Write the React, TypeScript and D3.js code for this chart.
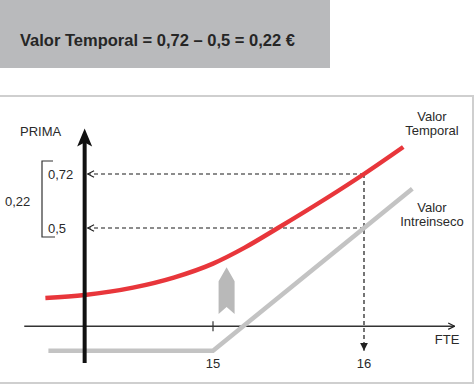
import React, { useEffect, useRef } from 'react';
import * as d3 from 'd3';

// red curve: option premium (valor temporal + intrinseco)
const precioPrima = [13.89, 14.15, 14.47, 14.74, 15.0, 15.21, 15.43, 16.0, 16.26];
const valorPrima = [0.215, 0.227, 0.257, 0.298, 0.355, 0.42, 0.5, 0.72, 0.83];

// gray line: valor intrinseco
const precioIntrinseco = [13.91, 15, 16.32];
const valorIntrinseco = [0, 0, 0.66];

const strike = 15;
const spot = 16;
const primaSpot = 0.72;
const intrinsecoSpot = 0.5;
const xTicks = ['15', '16'];

const titulo = 'Valor Temporal = 0,72 \u2013 0,5 = 0,22 \u20ac';

const W = 476;
const H = 386;
const FONT = '"Liberation Sans", Arial, sans-serif';

const App = () => {
  const ref = useRef<SVGSVGElement>(null);

  useEffect(() => {
    const svg = d3.select(ref.current);
    svg.selectAll('*').remove();

    const x = d3.scaleLinear().domain([strike, spot]).range([213, 364]);
    const y = d3.scaleLinear().domain([intrinsecoSpot, primaSpot]).range([228, 174]);

    const axisPrice = 14.15;
    const axisValue = 0.1;

    // Title box
    svg.append('rect').attr('x', 0).attr('y', 0).attr('width', 330).attr('height', 68).attr('fill', '#b9babc');
    svg.append('text')
      .attr('x', 20).attr('y', 46)
      .style('font-family', FONT).style('font-size', '16.5px').style('font-weight', 'bold')
      .attr('fill', '#262626')
      .text(titulo);

    // Frame
    svg.append('path')
      .attr('d', `M0,96 H473 V383 H0`)
      .attr('fill', 'none').attr('stroke', '#cfcfcf').attr('stroke-width', 2);

    const defs = svg.append('defs');
    defs.append('marker').attr('id', 'tri').attr('viewBox', '0 0 10 10')
      .attr('refX', 10).attr('refY', 5).attr('markerWidth', 8).attr('markerHeight', 8)
      .attr('markerUnits', 'userSpaceOnUse').attr('orient', 'auto')
      .append('path').attr('d', 'M0,0 L10,5 L0,10 Z').attr('fill', '#222');
    defs.append('marker').attr('id', 'chev').attr('viewBox', '0 0 10 10')
      .attr('refX', 9).attr('refY', 5).attr('markerWidth', 8).attr('markerHeight', 8)
      .attr('markerUnits', 'userSpaceOnUse').attr('orient', 'auto')
      .append('path').attr('d', 'M1,1 L9,5 L1,9').attr('fill', 'none').attr('stroke', '#222').attr('stroke-width', 1.5);

    // X axis
    svg.append('line')
      .attr('x1', x(13.75)).attr('x2', x(16.6))
      .attr('y1', y(axisValue)).attr('y2', y(axisValue))
      .attr('stroke', '#333').attr('stroke-width', 1.5)
      .attr('marker-end', 'url(#chev)');
    svg.append('line')
      .attr('x1', x(strike)).attr('x2', x(strike))
      .attr('y1', y(axisValue) - 5).attr('y2', y(axisValue) + 5)
      .attr('stroke', '#333').attr('stroke-width', 1.2);

    // Dashed guides
    const dash = '4,3';
    [primaSpot, intrinsecoSpot].forEach(v => {
      svg.append('line')
        .attr('x1', x(spot)).attr('x2', x(axisPrice) + 3)
        .attr('y1', y(v)).attr('y2', y(v))
        .attr('stroke', '#1a1a1a').attr('stroke-width', 1.2).attr('stroke-dasharray', dash)
        .attr('marker-end', 'url(#chev)');
    });
    svg.append('line')
      .attr('x1', x(spot)).attr('x2', x(spot))
      .attr('y1', y(primaSpot)).attr('y2', y(0))
      .attr('stroke', '#1a1a1a').attr('stroke-width', 1.2).attr('stroke-dasharray', dash)
      .attr('marker-end', 'url(#tri)');

    // Intrinsic value line
    const line = d3.line<[number, number]>().x(d => x(d[0])).y(d => y(d[1]));
    svg.append('path')
      .datum(precioIntrinseco.map((p, i) => [p, valorIntrinseco[i]] as [number, number]))
      .attr('d', line)
      .attr('fill', 'none').attr('stroke', '#c3c3c3').attr('stroke-width', 4.5);

    // Premium curve
    svg.append('path')
      .datum(precioPrima.map((p, i) => [p, valorPrima[i]] as [number, number]))
      .attr('d', line.curve(d3.curveMonotoneX))
      .attr('fill', 'none').attr('stroke', '#e8363b').attr('stroke-width', 4.5);

    // Y axis (thick, arrow on top)
    const yTop = y(0.905);
    const ax0 = x(axisPrice);
    svg.append('line')
      .attr('x1', ax0).attr('x2', ax0)
      .attr('y1', y(-0.05)).attr('y2', yTop + 12)
      .attr('stroke', '#111').attr('stroke-width', 4);
    svg.append('path')
      .attr('d', `M${ax0},${yTop} L${ax0 + 7.5},${yTop + 18} L${ax0},${yTop + 14} L${ax0 - 7.5},${yTop + 18} Z`)
      .attr('fill', '#111');

    // Gray up arrow near the strike
    const ux = x(15.09);
    const aTop = y(0.34);
    const aBot = y(0.15);
    svg.append('path')
      .attr('d', `M${ux},${aTop} L${ux + 8},${aTop + 14} L${ux + 8},${aBot} L${ux},${aBot - 7} L${ux - 8},${aBot} L${ux - 8},${aTop + 14} Z`)
      .attr('fill', '#b9b9b9');

    const text = (tx: number, ty: number, s: string, anchor = 'start', size = 13) =>
      svg.append('text')
        .attr('x', tx).attr('y', ty)
        .attr('text-anchor', anchor)
        .style('font-family', FONT).style('font-size', `${size}px`)
        .attr('fill', '#2a2a2a')
        .text(s);

    // Axis labels
    text(20, 136, 'PRIMA');
    text(x(16.55), y(axisValue) + 18, 'FTE', 'middle');
    xTicks.forEach(t => text(x(+t), y(axisValue) + 42, t, 'middle'));

    // Value labels + bracket
    text(48, y(primaSpot) + 5, '0,72');
    text(48, y(intrinsecoSpot) + 5, '0,5');
    text(5, (y(primaSpot) + y(intrinsecoSpot)) / 2 + 5, '0,22');
    svg.append('path')
      .attr('d', `M53,${y(primaSpot) - 13} H42 V${y(intrinsecoSpot) + 9} H55`)
      .attr('fill', 'none').attr('stroke', '#333').attr('stroke-width', 1.2);

    // Series labels
    text(432, 121, 'Valor', 'middle');
    text(432, 135, 'Temporal', 'middle');
    text(432, 212, 'Valor', 'middle');
    text(432, 226, 'Intreinseco', 'middle');
  }, []);

  return (
    <svg ref={ref} width={W} height={H} style={{ position: 'absolute', left: 0, top: 0, background: '#fff' }} />
  );
};

export default App;
